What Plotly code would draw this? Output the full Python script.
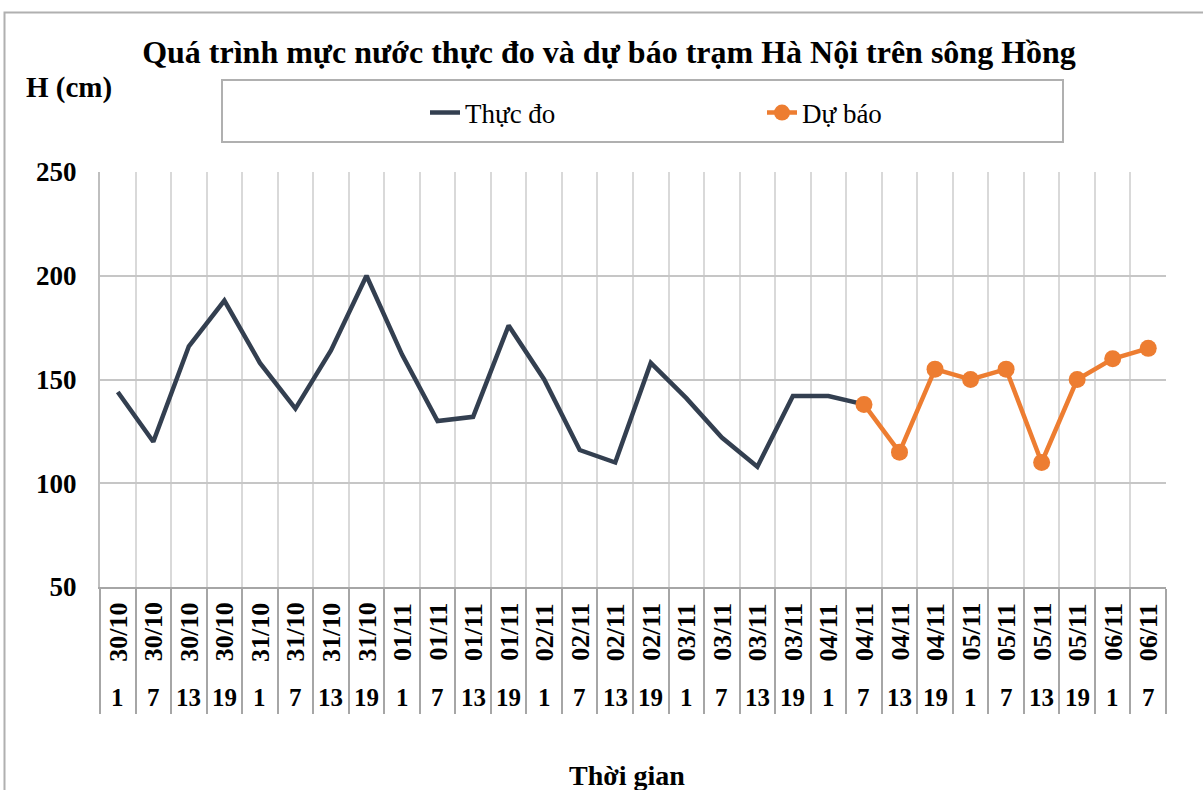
import plotly.graph_objects as go

# ---------------- data ----------------
dates = (["30/10"] * 4 + ["31/10"] * 4 + ["01/11"] * 4 + ["02/11"] * 4 +
         ["03/11"] * 4 + ["04/11"] * 4 + ["05/11"] * 4 + ["06/11"] * 2)
hours = ["1", "7", "13", "19"] * 7 + ["1", "7"]
observed = [144, 120, 166, 188, 158, 136, 164, 200, 162, 130, 132,
            176, 150, 116, 110, 158, 141, 122, 108, 142, 142, 138]
forecast = [138, 115, 155, 150, 155, 110, 150, 160, 165]
forecast_start = 21  # index of "04/11 7"
y_ticks = [50, 100, 150, 200, 250]

title_text = "Quá trình mực nước thực đo và dự báo trạm Hà Nội trên sông Hồng"
y_title = "H (cm)"
x_title = "Thời gian"

# ---------------- geometry ----------------
W, H = 1203, 790
L, R, T, B = 100, 37, 172, 203
PW, PH = W - L - R, H - T - B


def px(x):
    return (x - L) / PW


def py(y):
    return (H - B - y) / PH


FONT = "Liberation Serif"
GRID_X = "#d9d9d9"
GRID_Y = "#c6c6c6"
AXIS = "#a6a6a6"

n = len(dates)
x_obs = list(range(len(observed)))
x_fc = list(range(forecast_start, forecast_start + len(forecast)))
boundaries = [i - 0.5 for i in range(n + 1)]

fig = go.Figure()
fig.add_trace(go.Scatter(
    x=x_obs, y=observed, mode="lines", name="Thực đo",
    line=dict(color="#333f50", width=4.5)))
fig.add_trace(go.Scatter(
    x=x_fc, y=forecast, mode="lines+markers", name="Dự báo",
    line=dict(color="#ed7d31", width=4.5),
    marker=dict(color="#ed7d31", size=17)))

annotations = []
for i, (d, h) in enumerate(zip(dates, hours)):
    annotations.append(dict(
        x=i, y=py(632), xref="x", yref="paper", text="<b>%s</b>" % d,
        textangle=-90, showarrow=False, xanchor="center", yanchor="middle",
        font=dict(family=FONT, size=26, color="black")))
    annotations.append(dict(
        x=i, y=py(697), xref="x", yref="paper", text="<b>%s</b>" % h,
        showarrow=False, xanchor="center", yanchor="middle",
        font=dict(family=FONT, size=25, color="black")))

annotations.append(dict(
    x=px(68.5), y=py(88), xref="paper", yref="paper",
    text="<b>%s</b>" % y_title, showarrow=False,
    xanchor="center", yanchor="middle",
    font=dict(family=FONT, size=29, color="black")))
annotations.append(dict(
    x=px(627), y=py(775), xref="paper", yref="paper",
    text="<b>%s</b>" % x_title, showarrow=False,
    xanchor="center", yanchor="middle",
    font=dict(family=FONT, size=28, color="black")))

shapes = [
    # outer chart border
    dict(type="rect", xref="paper", yref="paper",
         x0=px(4.5), x1=px(1220), y0=py(820), y1=py(12.5),
         line=dict(color="#b0b0b0", width=2), fillcolor="rgba(0,0,0,0)",
         layer="below"),
    # legend box
    dict(type="rect", xref="paper", yref="paper",
         x0=px(222), x1=px(1063), y0=py(142), y1=py(80),
         line=dict(color="#b0b0b0", width=2), fillcolor="rgba(0,0,0,0)"),
]

fig.update_layout(
    width=W, height=H,
    margin=dict(l=L, r=R, t=T, b=B),
    paper_bgcolor="white", plot_bgcolor="white",
    title=dict(text="<b>%s</b>" % title_text, x=609 / W, xanchor="center",
               y=1 - 52 / H, yanchor="middle", yref="container",
               font=dict(family=FONT, size=32, color="black")),
    showlegend=True,
    legend=dict(orientation="h", x=px(425), xanchor="left",
                y=py(113), yanchor="middle", entrywidth=292,
                entrywidthmode="pixels",
                bgcolor="rgba(0,0,0,0)", borderwidth=0,
                font=dict(family=FONT, size=27, color="black")),
    annotations=annotations,
    shapes=shapes,
)

fig.update_xaxes(
    range=[-0.5, n - 0.5], tickmode="array", tickvals=boundaries,
    showticklabels=False, ticks="outside", ticklen=125, tickwidth=2,
    tickcolor=AXIS, showgrid=True, gridcolor=GRID_X, gridwidth=1.5,
    showline=True, linecolor=AXIS, linewidth=2, zeroline=False)
fig.update_yaxes(
    range=[50, 250], tickmode="array", tickvals=y_ticks,
    showgrid=True, gridcolor=GRID_Y, gridwidth=2,
    showline=True, linecolor="#bfbfbf", linewidth=2, zeroline=False,
    ticks="", ticklabelstandoff=16,
    tickfont=dict(family=FONT, size=27, color="black", weight="bold"))

fig.write_html(
    "out.html",
    config={"displayModeBar": False},
    post_script="document.body.style.margin='0';document.body.style.overflow='hidden';")
